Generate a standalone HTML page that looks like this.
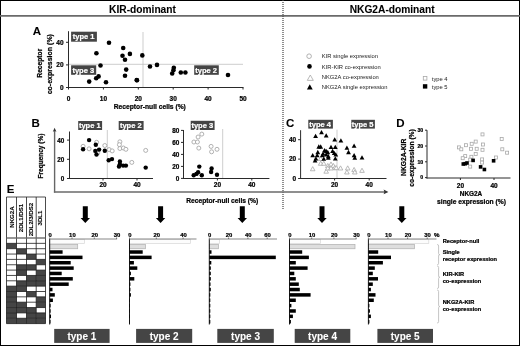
<!DOCTYPE html>
<html><head><meta charset="utf-8"><style>
html,body{margin:0;padding:0;background:#fff;}
svg{display:block;filter:grayscale(1);}
text{font-family:"Liberation Sans", sans-serif;}
</style></head><body>
<svg width="520" height="346" viewBox="0 0 520 346">
<rect x="0" y="0" width="520" height="346" fill="#fff"/>
<rect x="0.5" y="0.5" width="519" height="345" fill="none" stroke="#000" stroke-width="1"/>
<line x1="0" y1="15.9" x2="520" y2="15.9" stroke="#6a6a6a" stroke-width="1.6"/>
<line x1="283.0" y1="0" x2="283.0" y2="209" stroke="#444" stroke-width="1.2" stroke-dasharray="1 1"/>
<text x="142.5" y="13.2" font-size="10.2" font-weight="bold" text-anchor="middle" fill="#000" stroke="#000" stroke-width="0.08">KIR-dominant</text>
<text x="392.2" y="13.2" font-size="10.2" font-weight="bold" text-anchor="middle" fill="#000" stroke="#000" stroke-width="0.08">NKG2A-dominant</text>
<text x="32.7" y="35.2" font-size="11.5" font-weight="bold" text-anchor="start" fill="#000" stroke="#000" stroke-width="0.08">A</text>
<line x1="143" y1="32" x2="143" y2="87.5" stroke="#c0c0c0" stroke-width="0.8"/>
<line x1="68.5" y1="64.3" x2="243" y2="64.3" stroke="#c0c0c0" stroke-width="0.8"/>
<line x1="68.5" y1="31.2" x2="68.5" y2="88.0" stroke="#2a2a2a" stroke-width="1"/>
<line x1="68.0" y1="87.5" x2="243.5" y2="87.5" stroke="#2a2a2a" stroke-width="1"/>
<line x1="66.0" y1="87.5" x2="68.5" y2="87.5" stroke="#2a2a2a" stroke-width="1"/>
<text x="63.6" y="89.8" font-size="6.5" font-weight="bold" text-anchor="end" fill="#000" stroke="#000" stroke-width="0.22">0</text>
<line x1="66.0" y1="64.9" x2="68.5" y2="64.9" stroke="#2a2a2a" stroke-width="1"/>
<text x="63.6" y="67.2" font-size="6.5" font-weight="bold" text-anchor="end" fill="#000" stroke="#000" stroke-width="0.22">20</text>
<line x1="66.0" y1="42.300000000000004" x2="68.5" y2="42.300000000000004" stroke="#2a2a2a" stroke-width="1"/>
<text x="63.6" y="44.6" font-size="6.5" font-weight="bold" text-anchor="end" fill="#000" stroke="#000" stroke-width="0.22">40</text>
<line x1="68.5" y1="87.5" x2="68.5" y2="89.5" stroke="#2a2a2a" stroke-width="1"/>
<text x="68.5" y="100.9" font-size="6.5" font-weight="bold" text-anchor="middle" fill="#000" stroke="#000" stroke-width="0.22">0</text>
<line x1="103.4" y1="87.5" x2="103.4" y2="89.5" stroke="#2a2a2a" stroke-width="1"/>
<text x="103.4" y="100.9" font-size="6.5" font-weight="bold" text-anchor="middle" fill="#000" stroke="#000" stroke-width="0.22">10</text>
<line x1="138.3" y1="87.5" x2="138.3" y2="89.5" stroke="#2a2a2a" stroke-width="1"/>
<text x="138.3" y="100.9" font-size="6.5" font-weight="bold" text-anchor="middle" fill="#000" stroke="#000" stroke-width="0.22">20</text>
<line x1="173.2" y1="87.5" x2="173.2" y2="89.5" stroke="#2a2a2a" stroke-width="1"/>
<text x="173.2" y="100.9" font-size="6.5" font-weight="bold" text-anchor="middle" fill="#000" stroke="#000" stroke-width="0.22">30</text>
<line x1="208.10000000000002" y1="87.5" x2="208.10000000000002" y2="89.5" stroke="#2a2a2a" stroke-width="1"/>
<text x="208.10000000000002" y="100.9" font-size="6.5" font-weight="bold" text-anchor="middle" fill="#000" stroke="#000" stroke-width="0.22">40</text>
<line x1="243.0" y1="87.5" x2="243.0" y2="89.5" stroke="#2a2a2a" stroke-width="1"/>
<text x="243.0" y="100.9" font-size="6.5" font-weight="bold" text-anchor="middle" fill="#000" stroke="#000" stroke-width="0.22">50</text>
<text x="149.8" y="109.0" font-size="6.7" font-weight="bold" text-anchor="middle" fill="#000" stroke="#000" stroke-width="0.22">Receptor-null cells (%)</text>
<text x="42.3" y="63.2" font-size="6.7" font-weight="bold" text-anchor="middle" fill="#000" transform="rotate(-90 42.3 63.2)" stroke="#000" stroke-width="0.22">Receptor</text>
<text x="51.6" y="64.2" font-size="7.0" font-weight="bold" text-anchor="middle" fill="#000" transform="rotate(-90 51.6 64.2)" stroke="#000" stroke-width="0.22">co-expression (%)</text>
<rect x="71.1" y="31.7" width="25.80000000000001" height="10.000000000000004" fill="#454545"/>
<text x="83.6" y="39.35" font-size="7.5" font-weight="bold" text-anchor="middle" fill="#fff" stroke="#fff" stroke-width="0.22">type 1</text>
<rect x="71.1" y="65.3" width="25.10000000000001" height="9.5" fill="#454545"/>
<text x="83.25" y="72.7" font-size="7.5" font-weight="bold" text-anchor="middle" fill="#fff" stroke="#fff" stroke-width="0.22">type 3</text>
<rect x="194.2" y="65.3" width="24.600000000000023" height="9.5" fill="#454545"/>
<text x="206.1" y="72.7" font-size="7.5" font-weight="bold" text-anchor="middle" fill="#fff" stroke="#fff" stroke-width="0.22">type 2</text>
<circle cx="109" cy="42.8" r="2.3" fill="#000"/>
<circle cx="96.4" cy="53.3" r="2.3" fill="#000"/>
<circle cx="123.2" cy="48" r="2.3" fill="#000"/>
<circle cx="122.5" cy="55.7" r="2.3" fill="#000"/>
<circle cx="129.9" cy="53.9" r="2.3" fill="#000"/>
<circle cx="125" cy="59.8" r="2.3" fill="#000"/>
<circle cx="142.3" cy="55.4" r="2.3" fill="#000"/>
<circle cx="100.5" cy="65.5" r="2.3" fill="#000"/>
<circle cx="126.2" cy="69.6" r="2.3" fill="#000"/>
<circle cx="125" cy="75.7" r="2.3" fill="#000"/>
<circle cx="98.6" cy="76.4" r="2.3" fill="#000"/>
<circle cx="96.2" cy="78.3" r="2.3" fill="#000"/>
<circle cx="89.2" cy="81.6" r="2.3" fill="#000"/>
<circle cx="106" cy="82.2" r="2.3" fill="#000"/>
<circle cx="136.7" cy="80.1" r="2.3" fill="#000"/>
<circle cx="150" cy="66.5" r="2.3" fill="#000"/>
<circle cx="157" cy="64.9" r="2.3" fill="#000"/>
<circle cx="173.8" cy="67.7" r="2.3" fill="#000"/>
<circle cx="173.4" cy="70.2" r="2.3" fill="#000"/>
<circle cx="172.2" cy="73.5" r="2.3" fill="#000"/>
<circle cx="180.8" cy="72.5" r="2.3" fill="#000"/>
<circle cx="185.4" cy="72.5" r="2.3" fill="#000"/>
<circle cx="228" cy="75" r="2.3" fill="#000"/>
<circle cx="137" cy="80.2" r="2.3" fill="#000"/>
<circle cx="309.1" cy="56.2" r="2.3" fill="#fff" stroke="#a8a8a8" stroke-width="0.9"/>
<circle cx="309.5" cy="66.4" r="2.3" fill="#000"/>
<polygon points="310.30,75.00 307.30,80.40 313.30,80.40" fill="#fff" stroke="#a8a8a8" stroke-width="0.8"/>
<polygon points="309.80,84.19 306.90,89.41 312.70,89.41" fill="#000"/>
<text x="321.8" y="58.2" font-size="5.8" font-weight="normal" text-anchor="start" fill="#1a1a1a">KIR single expression</text>
<text x="321.8" y="68.5" font-size="5.8" font-weight="normal" text-anchor="start" fill="#1a1a1a">KIR-KIR co-expression</text>
<text x="321.8" y="78.9" font-size="5.8" font-weight="normal" text-anchor="start" fill="#1a1a1a">NKG2A co-expression</text>
<text x="321.8" y="89.2" font-size="5.8" font-weight="normal" text-anchor="start" fill="#1a1a1a">NKG2A single expression</text>
<rect x="423.30" y="76.50" width="3.6000000000000005" height="3.6000000000000005" fill="#fff" stroke="#a8a8a8" stroke-width="0.8"/>
<rect x="422.90" y="84.20" width="4.4" height="4.4" fill="#000"/>
<text x="431.8" y="80.8" font-size="5.8" font-weight="normal" text-anchor="start" fill="#1a1a1a">type 4</text>
<text x="431.8" y="89.3" font-size="5.8" font-weight="normal" text-anchor="start" fill="#1a1a1a">type 5</text>
<text x="31.6" y="127.1" font-size="11.5" font-weight="bold" text-anchor="start" fill="#000" stroke="#000" stroke-width="0.08">B</text>
<line x1="54.6" y1="130.5" x2="54.6" y2="192.6" stroke="#666" stroke-width="1.4"/>
<polygon points="54.6,127.7 52.8,131.8 54.6,131.0 56.4,131.8" fill="#333"/>
<line x1="53.9" y1="191.9" x2="385" y2="191.9" stroke="#6a6a6a" stroke-width="1.5"/>
<polygon points="383.6,189.5 388.4,191.9 383.6,194.3 384.4,191.9" fill="#333"/>
<text x="42.9" y="156" font-size="6.5" font-weight="bold" text-anchor="middle" fill="#000" transform="rotate(-90 42.9 156)" stroke="#000" stroke-width="0.22">Frequency (%)</text>
<text x="222.2" y="202.6" font-size="6.7" font-weight="bold" text-anchor="middle" fill="#000" stroke="#000" stroke-width="0.22">Receptor-null cells (%)</text>
<line x1="107.3" y1="130" x2="107.3" y2="178.5" stroke="#c0c0c0" stroke-width="0.8"/>
<line x1="69.5" y1="131.5" x2="69.5" y2="179.0" stroke="#2a2a2a" stroke-width="1"/>
<line x1="69.0" y1="178.5" x2="153" y2="178.5" stroke="#2a2a2a" stroke-width="1"/>
<line x1="67.0" y1="178.5" x2="69.5" y2="178.5" stroke="#2a2a2a" stroke-width="1"/>
<text x="64.3" y="180.9" font-size="6.3" font-weight="bold" text-anchor="end" fill="#000" stroke="#000" stroke-width="0.22">0</text>
<line x1="67.0" y1="159.3" x2="69.5" y2="159.3" stroke="#2a2a2a" stroke-width="1"/>
<text x="64.3" y="161.70000000000002" font-size="6.3" font-weight="bold" text-anchor="end" fill="#000" stroke="#000" stroke-width="0.22">20</text>
<line x1="67.0" y1="140.1" x2="69.5" y2="140.1" stroke="#2a2a2a" stroke-width="1"/>
<text x="64.3" y="142.5" font-size="6.3" font-weight="bold" text-anchor="end" fill="#000" stroke="#000" stroke-width="0.22">40</text>
<line x1="103.0" y1="178.5" x2="103.0" y2="180.5" stroke="#2a2a2a" stroke-width="1"/>
<text x="103.0" y="187.0" font-size="6.5" font-weight="bold" text-anchor="middle" fill="#000" stroke="#000" stroke-width="0.22">20</text>
<line x1="137.0" y1="178.5" x2="137.0" y2="180.5" stroke="#2a2a2a" stroke-width="1"/>
<text x="137.0" y="187.0" font-size="6.5" font-weight="bold" text-anchor="middle" fill="#000" stroke="#000" stroke-width="0.22">40</text>
<rect x="78.2" y="121.0" width="23.89999999999999" height="9.0" fill="#454545"/>
<text x="89.75" y="128.15" font-size="7.5" font-weight="bold" text-anchor="middle" fill="#fff" stroke="#fff" stroke-width="0.22">type 1</text>
<rect x="118.7" y="121.0" width="24.89999999999999" height="9.0" fill="#454545"/>
<text x="130.75" y="128.15" font-size="7.5" font-weight="bold" text-anchor="middle" fill="#fff" stroke="#fff" stroke-width="0.22">type 2</text>
<circle cx="83.1" cy="146.3" r="2.0" fill="#fff" stroke="#a8a8a8" stroke-width="0.9"/>
<circle cx="89.1" cy="148.8" r="2.0" fill="#fff" stroke="#a8a8a8" stroke-width="0.9"/>
<circle cx="96.6" cy="142.3" r="2.0" fill="#fff" stroke="#a8a8a8" stroke-width="0.9"/>
<circle cx="104.8" cy="145.5" r="2.0" fill="#fff" stroke="#a8a8a8" stroke-width="0.9"/>
<circle cx="109.2" cy="149.6" r="2.0" fill="#fff" stroke="#a8a8a8" stroke-width="0.9"/>
<circle cx="112.2" cy="150.9" r="2.0" fill="#fff" stroke="#a8a8a8" stroke-width="0.9"/>
<circle cx="119.9" cy="141.8" r="2.0" fill="#fff" stroke="#a8a8a8" stroke-width="0.9"/>
<circle cx="119.4" cy="144.7" r="2.0" fill="#fff" stroke="#a8a8a8" stroke-width="0.9"/>
<circle cx="119.9" cy="148.5" r="2.0" fill="#fff" stroke="#a8a8a8" stroke-width="0.9"/>
<circle cx="123.4" cy="148" r="2.0" fill="#fff" stroke="#a8a8a8" stroke-width="0.9"/>
<circle cx="125.9" cy="149.3" r="2.0" fill="#fff" stroke="#a8a8a8" stroke-width="0.9"/>
<circle cx="131.8" cy="162.4" r="2.0" fill="#fff" stroke="#a8a8a8" stroke-width="0.9"/>
<circle cx="145.7" cy="150.4" r="2.0" fill="#fff" stroke="#a8a8a8" stroke-width="0.9"/>
<circle cx="97.8" cy="152.9" r="2.0" fill="#fff" stroke="#a8a8a8" stroke-width="0.9"/>
<circle cx="89.1" cy="140.1" r="2.2" fill="#000"/>
<circle cx="83.1" cy="149.3" r="2.2" fill="#000"/>
<circle cx="95.8" cy="144.7" r="2.2" fill="#000"/>
<circle cx="99.1" cy="149.6" r="2.2" fill="#000"/>
<circle cx="95.3" cy="150.9" r="2.2" fill="#000"/>
<circle cx="96.5" cy="154.5" r="2.2" fill="#000"/>
<circle cx="104.8" cy="150.8" r="2.2" fill="#000"/>
<circle cx="108.7" cy="160.2" r="2.2" fill="#000"/>
<circle cx="112" cy="159.1" r="2.2" fill="#000"/>
<circle cx="119.9" cy="161.5" r="2.2" fill="#000"/>
<circle cx="119.9" cy="164.3" r="2.2" fill="#000"/>
<circle cx="119" cy="166.5" r="2.2" fill="#000"/>
<circle cx="123.1" cy="165.6" r="2.2" fill="#000"/>
<circle cx="125.9" cy="165.6" r="2.2" fill="#000"/>
<circle cx="145.7" cy="167.6" r="2.2" fill="#000"/>
<line x1="222.7" y1="129" x2="222.7" y2="178.5" stroke="#c0c0c0" stroke-width="0.8"/>
<line x1="183.5" y1="130" x2="183.5" y2="179.0" stroke="#2a2a2a" stroke-width="1"/>
<line x1="183.0" y1="178.5" x2="269.4" y2="178.5" stroke="#2a2a2a" stroke-width="1"/>
<line x1="181.0" y1="178.4" x2="183.5" y2="178.4" stroke="#2a2a2a" stroke-width="1"/>
<text x="179.4" y="180.70000000000002" font-size="6.4" font-weight="bold" text-anchor="end" fill="#000" stroke="#000" stroke-width="0.22">0</text>
<line x1="181.0" y1="166.4" x2="183.5" y2="166.4" stroke="#2a2a2a" stroke-width="1"/>
<text x="179.4" y="168.70000000000002" font-size="6.4" font-weight="bold" text-anchor="end" fill="#000" stroke="#000" stroke-width="0.22">20</text>
<line x1="181.0" y1="154.4" x2="183.5" y2="154.4" stroke="#2a2a2a" stroke-width="1"/>
<text x="179.4" y="156.70000000000002" font-size="6.4" font-weight="bold" text-anchor="end" fill="#000" stroke="#000" stroke-width="0.22">40</text>
<line x1="181.0" y1="142.4" x2="183.5" y2="142.4" stroke="#2a2a2a" stroke-width="1"/>
<text x="179.4" y="144.70000000000002" font-size="6.4" font-weight="bold" text-anchor="end" fill="#000" stroke="#000" stroke-width="0.22">60</text>
<line x1="181.0" y1="130.4" x2="183.5" y2="130.4" stroke="#2a2a2a" stroke-width="1"/>
<text x="179.4" y="132.70000000000002" font-size="6.4" font-weight="bold" text-anchor="end" fill="#000" stroke="#000" stroke-width="0.22">80</text>
<line x1="217.4" y1="178.5" x2="217.4" y2="180.5" stroke="#2a2a2a" stroke-width="1"/>
<text x="217.4" y="187.0" font-size="6.5" font-weight="bold" text-anchor="middle" fill="#000" stroke="#000" stroke-width="0.22">20</text>
<line x1="251.8" y1="178.5" x2="251.8" y2="180.5" stroke="#2a2a2a" stroke-width="1"/>
<text x="251.8" y="187.0" font-size="6.5" font-weight="bold" text-anchor="middle" fill="#000" stroke="#000" stroke-width="0.22">40</text>
<rect x="190.7" y="120.8" width="23.900000000000006" height="9.200000000000003" fill="#454545"/>
<text x="202.24999999999997" y="128.05" font-size="7.5" font-weight="bold" text-anchor="middle" fill="#fff" stroke="#fff" stroke-width="0.22">type 3</text>
<circle cx="193.9" cy="142" r="2.0" fill="#fff" stroke="#a8a8a8" stroke-width="0.9"/>
<circle cx="197.4" cy="142" r="2.0" fill="#fff" stroke="#a8a8a8" stroke-width="0.9"/>
<circle cx="198.1" cy="137" r="2.0" fill="#fff" stroke="#a8a8a8" stroke-width="0.9"/>
<circle cx="201.8" cy="134.1" r="2.0" fill="#fff" stroke="#a8a8a8" stroke-width="0.9"/>
<circle cx="198.8" cy="148.1" r="2.0" fill="#fff" stroke="#a8a8a8" stroke-width="0.9"/>
<circle cx="211.1" cy="146.4" r="2.0" fill="#fff" stroke="#a8a8a8" stroke-width="0.9"/>
<circle cx="211.6" cy="151.8" r="2.0" fill="#fff" stroke="#a8a8a8" stroke-width="0.9"/>
<circle cx="217" cy="149.3" r="2.0" fill="#fff" stroke="#a8a8a8" stroke-width="0.9"/>
<circle cx="193.7" cy="175.2" r="2.2" fill="#000"/>
<circle cx="196.4" cy="173.9" r="2.2" fill="#000"/>
<circle cx="198.1" cy="172.2" r="2.2" fill="#000"/>
<circle cx="199.3" cy="166.6" r="2.2" fill="#000"/>
<circle cx="201.8" cy="175.2" r="2.2" fill="#000"/>
<circle cx="211.6" cy="168.5" r="2.2" fill="#000"/>
<circle cx="211.1" cy="172" r="2.2" fill="#000"/>
<circle cx="217" cy="174.7" r="2.2" fill="#000"/>
<text x="285.9" y="127.0" font-size="11.5" font-weight="bold" text-anchor="start" fill="#000" stroke="#000" stroke-width="0.08">C</text>
<line x1="337" y1="129.7" x2="337" y2="178.5" stroke="#c0c0c0" stroke-width="0.8"/>
<line x1="300.6" y1="130.2" x2="300.6" y2="179.0" stroke="#2a2a2a" stroke-width="1"/>
<line x1="300.1" y1="178.5" x2="386.5" y2="178.5" stroke="#2a2a2a" stroke-width="1"/>
<line x1="298.1" y1="178.5" x2="300.6" y2="178.5" stroke="#2a2a2a" stroke-width="1"/>
<text x="296.2" y="180.8" font-size="6.5" font-weight="bold" text-anchor="end" fill="#000" stroke="#000" stroke-width="0.22">0</text>
<line x1="298.1" y1="159.1" x2="300.6" y2="159.1" stroke="#2a2a2a" stroke-width="1"/>
<text x="296.2" y="161.4" font-size="6.5" font-weight="bold" text-anchor="end" fill="#000" stroke="#000" stroke-width="0.22">20</text>
<line x1="298.1" y1="139.7" x2="300.6" y2="139.7" stroke="#2a2a2a" stroke-width="1"/>
<text x="296.2" y="142.0" font-size="6.5" font-weight="bold" text-anchor="end" fill="#000" stroke="#000" stroke-width="0.22">40</text>
<line x1="334.6" y1="178.5" x2="334.6" y2="180.5" stroke="#2a2a2a" stroke-width="1"/>
<text x="334.6" y="187.0" font-size="6.5" font-weight="bold" text-anchor="middle" fill="#000" stroke="#000" stroke-width="0.22">20</text>
<line x1="369.2" y1="178.5" x2="369.2" y2="180.5" stroke="#2a2a2a" stroke-width="1"/>
<text x="369.2" y="187.0" font-size="6.5" font-weight="bold" text-anchor="middle" fill="#000" stroke="#000" stroke-width="0.22">40</text>
<rect x="308.3" y="119.8" width="24.599999999999966" height="8.799999999999997" fill="#454545"/>
<text x="320.20000000000005" y="126.85" font-size="7.5" font-weight="bold" text-anchor="middle" fill="#fff" stroke="#fff" stroke-width="0.22">type 4</text>
<rect x="351.3" y="119.8" width="23.599999999999966" height="8.799999999999997" fill="#454545"/>
<text x="362.70000000000005" y="126.85" font-size="7.5" font-weight="bold" text-anchor="middle" fill="#fff" stroke="#fff" stroke-width="0.22">type 5</text>
<polygon points="312.70,166.63 310.40,170.77 315.00,170.77" fill="#fff" stroke="#a8a8a8" stroke-width="0.8"/>
<polygon points="320.70,156.33 318.40,160.47 323.00,160.47" fill="#fff" stroke="#a8a8a8" stroke-width="0.8"/>
<polygon points="320.70,161.13 318.40,165.27 323.00,165.27" fill="#fff" stroke="#a8a8a8" stroke-width="0.8"/>
<polygon points="323.80,161.13 321.50,165.27 326.10,165.27" fill="#fff" stroke="#a8a8a8" stroke-width="0.8"/>
<polygon points="327.80,163.43 325.50,167.57 330.10,167.57" fill="#fff" stroke="#a8a8a8" stroke-width="0.8"/>
<polygon points="331.00,161.93 328.70,166.07 333.30,166.07" fill="#fff" stroke="#a8a8a8" stroke-width="0.8"/>
<polygon points="333.40,163.43 331.10,167.57 335.70,167.57" fill="#fff" stroke="#a8a8a8" stroke-width="0.8"/>
<polygon points="334.70,165.53 332.40,169.67 337.00,169.67" fill="#fff" stroke="#a8a8a8" stroke-width="0.8"/>
<polygon points="336.20,165.53 333.90,169.67 338.50,169.67" fill="#fff" stroke="#a8a8a8" stroke-width="0.8"/>
<polygon points="340.50,165.83 338.20,169.97 342.80,169.97" fill="#fff" stroke="#a8a8a8" stroke-width="0.8"/>
<polygon points="326.20,169.03 323.90,173.17 328.50,173.17" fill="#fff" stroke="#a8a8a8" stroke-width="0.8"/>
<polygon points="327.80,165.83 325.50,169.97 330.10,169.97" fill="#fff" stroke="#a8a8a8" stroke-width="0.8"/>
<polygon points="331.00,165.83 328.70,169.97 333.30,169.97" fill="#fff" stroke="#a8a8a8" stroke-width="0.8"/>
<polygon points="347.70,165.83 345.40,169.97 350.00,169.97" fill="#fff" stroke="#a8a8a8" stroke-width="0.8"/>
<polygon points="346.90,169.83 344.60,173.97 349.20,173.97" fill="#fff" stroke="#a8a8a8" stroke-width="0.8"/>
<polygon points="354.10,167.43 351.80,171.57 356.40,171.57" fill="#fff" stroke="#a8a8a8" stroke-width="0.8"/>
<polygon points="354.80,169.83 352.50,173.97 357.10,173.97" fill="#fff" stroke="#a8a8a8" stroke-width="0.8"/>
<polygon points="362.00,168.23 359.70,172.37 364.30,172.37" fill="#fff" stroke="#a8a8a8" stroke-width="0.8"/>
<polygon points="315.60,133.64 313.20,137.96 318.00,137.96" fill="#000"/>
<polygon points="321.50,130.04 319.10,134.36 323.90,134.36" fill="#000"/>
<polygon points="326.20,133.14 323.80,137.46 328.60,137.46" fill="#000"/>
<polygon points="334.70,137.14 332.30,141.46 337.10,141.46" fill="#000"/>
<polygon points="340.90,138.24 338.50,142.56 343.30,142.56" fill="#000"/>
<polygon points="318.80,144.34 316.40,148.66 321.20,148.66" fill="#000"/>
<polygon points="320.70,144.34 318.30,148.66 323.10,148.66" fill="#000"/>
<polygon points="331.00,144.74 328.60,149.06 333.40,149.06" fill="#000"/>
<polygon points="335.30,144.74 332.90,149.06 337.70,149.06" fill="#000"/>
<polygon points="346.90,145.44 344.50,149.76 349.30,149.76" fill="#000"/>
<polygon points="354.10,143.54 351.70,147.86 356.50,147.86" fill="#000"/>
<polygon points="317.80,149.84 315.40,154.16 320.20,154.16" fill="#000"/>
<polygon points="324.60,147.94 322.20,152.26 327.00,152.26" fill="#000"/>
<polygon points="326.20,148.64 323.80,152.96 328.60,152.96" fill="#000"/>
<polygon points="327.80,149.84 325.40,154.16 330.20,154.16" fill="#000"/>
<polygon points="323.10,151.14 320.70,155.46 325.50,155.46" fill="#000"/>
<polygon points="332.60,148.64 330.20,152.96 335.00,152.96" fill="#000"/>
<polygon points="334.20,150.64 331.80,154.96 336.60,154.96" fill="#000"/>
<polygon points="348.50,149.84 346.10,154.16 350.90,154.16" fill="#000"/>
<polygon points="312.70,153.04 310.30,157.36 315.10,157.36" fill="#000"/>
<polygon points="317.20,153.04 314.80,157.36 319.60,157.36" fill="#000"/>
<polygon points="322.30,153.04 319.90,157.36 324.70,157.36" fill="#000"/>
<polygon points="326.20,152.24 323.80,156.56 328.60,156.56" fill="#000"/>
<polygon points="328.30,153.84 325.90,158.16 330.70,158.16" fill="#000"/>
<polygon points="335.80,152.24 333.40,156.56 338.20,156.56" fill="#000"/>
<polygon points="354.10,153.04 351.70,157.36 356.50,157.36" fill="#000"/>
<polygon points="354.80,155.44 352.40,159.76 357.20,159.76" fill="#000"/>
<polygon points="362.00,155.14 359.60,159.46 364.40,159.46" fill="#000"/>
<polygon points="315.10,158.14 312.70,162.46 317.50,162.46" fill="#000"/>
<polygon points="323.80,156.54 321.40,160.86 326.20,160.86" fill="#000"/>
<polygon points="328.30,155.44 325.90,159.76 330.70,159.76" fill="#000"/>
<polygon points="335.30,156.24 332.90,160.56 337.70,160.56" fill="#000"/>
<polygon points="315.90,156.24 313.50,160.56 318.30,160.56" fill="#000"/>
<text x="396.2" y="127.1" font-size="11.5" font-weight="bold" text-anchor="start" fill="#000" stroke="#000" stroke-width="0.08">D</text>
<line x1="427.0" y1="130.2" x2="427.0" y2="178.5" stroke="#2a2a2a" stroke-width="1"/>
<line x1="426.5" y1="178.0" x2="510.5" y2="178.0" stroke="#2a2a2a" stroke-width="1"/>
<line x1="425.0" y1="177.6" x2="427.0" y2="177.6" stroke="#2a2a2a" stroke-width="1"/>
<text x="423.2" y="179.4" font-size="5.2" font-weight="bold" text-anchor="end" fill="#000" stroke="#000" stroke-width="0.22">0</text>
<line x1="425.0" y1="161.79999999999998" x2="427.0" y2="161.79999999999998" stroke="#2a2a2a" stroke-width="1"/>
<text x="423.2" y="163.6" font-size="5.2" font-weight="bold" text-anchor="end" fill="#000" stroke="#000" stroke-width="0.22">10</text>
<line x1="425.0" y1="146.0" x2="427.0" y2="146.0" stroke="#2a2a2a" stroke-width="1"/>
<text x="423.2" y="147.8" font-size="5.2" font-weight="bold" text-anchor="end" fill="#000" stroke="#000" stroke-width="0.22">20</text>
<line x1="425.0" y1="130.2" x2="427.0" y2="130.2" stroke="#2a2a2a" stroke-width="1"/>
<text x="423.2" y="132.0" font-size="5.2" font-weight="bold" text-anchor="end" fill="#000" stroke="#000" stroke-width="0.22">30</text>
<line x1="460.40000000000003" y1="178.0" x2="460.40000000000003" y2="180.0" stroke="#2a2a2a" stroke-width="1"/>
<text x="460.40000000000003" y="187.5" font-size="6.5" font-weight="bold" text-anchor="middle" fill="#000" stroke="#000" stroke-width="0.22">20</text>
<line x1="494.0" y1="178.0" x2="494.0" y2="180.0" stroke="#2a2a2a" stroke-width="1"/>
<text x="494.0" y="187.5" font-size="6.5" font-weight="bold" text-anchor="middle" fill="#000" stroke="#000" stroke-width="0.22">40</text>
<text x="471.0" y="195.8" font-size="6.4" font-weight="bold" text-anchor="middle" fill="#000" stroke="#000" stroke-width="0.22">NKG2A</text>
<text x="471.5" y="204.2" font-size="6.7" font-weight="bold" text-anchor="middle" fill="#000" stroke="#000" stroke-width="0.22">single expression (%)</text>
<text x="406.4" y="157.3" font-size="6.7" font-weight="bold" text-anchor="middle" fill="#000" transform="rotate(-90 406.4 157.3)" stroke="#000" stroke-width="0.22">NKG2A-KIR</text>
<text x="413.5" y="158" font-size="6.7" font-weight="bold" text-anchor="middle" fill="#000" transform="rotate(-90 413.5 158)" stroke="#000" stroke-width="0.22">co-expression (%)</text>
<rect x="457.50" y="145.90" width="3.0" height="3.0" fill="#fff" stroke="#a8a8a8" stroke-width="0.8"/>
<rect x="459.80" y="147.80" width="3.0" height="3.0" fill="#fff" stroke="#a8a8a8" stroke-width="0.8"/>
<rect x="464.40" y="143.70" width="3.0" height="3.0" fill="#fff" stroke="#a8a8a8" stroke-width="0.8"/>
<rect x="470.20" y="142.30" width="3.0" height="3.0" fill="#fff" stroke="#a8a8a8" stroke-width="0.8"/>
<rect x="474.20" y="140.10" width="3.0" height="3.0" fill="#fff" stroke="#a8a8a8" stroke-width="0.8"/>
<rect x="469.40" y="147.30" width="3.0" height="3.0" fill="#fff" stroke="#a8a8a8" stroke-width="0.8"/>
<rect x="475.20" y="147.30" width="3.0" height="3.0" fill="#fff" stroke="#a8a8a8" stroke-width="0.8"/>
<rect x="481.00" y="132.90" width="3.0" height="3.0" fill="#fff" stroke="#a8a8a8" stroke-width="0.8"/>
<rect x="481.40" y="143.00" width="3.0" height="3.0" fill="#fff" stroke="#a8a8a8" stroke-width="0.8"/>
<rect x="481.00" y="148.30" width="3.0" height="3.0" fill="#fff" stroke="#a8a8a8" stroke-width="0.8"/>
<rect x="474.20" y="152.40" width="3.0" height="3.0" fill="#fff" stroke="#a8a8a8" stroke-width="0.8"/>
<rect x="463.70" y="154.60" width="3.0" height="3.0" fill="#fff" stroke="#a8a8a8" stroke-width="0.8"/>
<rect x="461.20" y="156.70" width="3.0" height="3.0" fill="#fff" stroke="#a8a8a8" stroke-width="0.8"/>
<rect x="469.90" y="155.30" width="3.0" height="3.0" fill="#fff" stroke="#a8a8a8" stroke-width="0.8"/>
<rect x="468.70" y="158.20" width="3.0" height="3.0" fill="#fff" stroke="#a8a8a8" stroke-width="0.8"/>
<rect x="480.60" y="157.90" width="3.0" height="3.0" fill="#fff" stroke="#a8a8a8" stroke-width="0.8"/>
<rect x="480.60" y="161.10" width="3.0" height="3.0" fill="#fff" stroke="#a8a8a8" stroke-width="0.8"/>
<rect x="468.70" y="165.10" width="3.0" height="3.0" fill="#fff" stroke="#a8a8a8" stroke-width="0.8"/>
<rect x="494.40" y="156.00" width="3.0" height="3.0" fill="#fff" stroke="#a8a8a8" stroke-width="0.8"/>
<rect x="500.20" y="137.50" width="3.0" height="3.0" fill="#fff" stroke="#a8a8a8" stroke-width="0.8"/>
<rect x="500.80" y="147.80" width="3.0" height="3.0" fill="#fff" stroke="#a8a8a8" stroke-width="0.8"/>
<rect x="505.60" y="151.20" width="3.0" height="3.0" fill="#fff" stroke="#a8a8a8" stroke-width="0.8"/>
<rect x="461.50" y="162.20" width="3.6" height="3.6" fill="#000"/>
<rect x="463.40" y="161.90" width="3.6" height="3.6" fill="#000"/>
<rect x="465.20" y="161.20" width="3.6" height="3.6" fill="#000"/>
<rect x="471.30" y="158.60" width="3.6" height="3.6" fill="#000"/>
<rect x="478.80" y="165.10" width="3.6" height="3.6" fill="#000"/>
<rect x="482.60" y="167.70" width="3.6" height="3.6" fill="#000"/>
<rect x="491.80" y="159.00" width="3.6" height="3.6" fill="#000"/>
<text x="6.8" y="193.3" font-size="11.5" font-weight="bold" text-anchor="start" fill="#000" stroke="#000" stroke-width="0.08">E</text>
<rect x="6.5" y="243.35" width="10.0" height="5.35" fill="#454545"/>
<rect x="16.5" y="248.7" width="10.0" height="5.35" fill="#454545"/>
<rect x="26.5" y="254.05" width="9.700000000000003" height="5.35" fill="#454545"/>
<rect x="36.2" y="259.4" width="9.299999999999997" height="5.35" fill="#454545"/>
<rect x="16.5" y="264.75" width="10.0" height="5.35" fill="#454545"/>
<rect x="26.5" y="264.75" width="9.700000000000003" height="5.35" fill="#454545"/>
<rect x="16.5" y="270.1" width="10.0" height="5.35" fill="#454545"/>
<rect x="36.2" y="270.1" width="9.299999999999997" height="5.35" fill="#454545"/>
<rect x="26.5" y="275.45" width="9.700000000000003" height="5.35" fill="#454545"/>
<rect x="36.2" y="275.45" width="9.299999999999997" height="5.35" fill="#454545"/>
<rect x="16.5" y="280.8" width="10.0" height="5.35" fill="#454545"/>
<rect x="26.5" y="280.8" width="9.700000000000003" height="5.35" fill="#454545"/>
<rect x="36.2" y="280.8" width="9.299999999999997" height="5.35" fill="#454545"/>
<rect x="6.5" y="286.15" width="10.0" height="5.35" fill="#454545"/>
<rect x="16.5" y="286.15" width="10.0" height="5.35" fill="#454545"/>
<rect x="6.5" y="291.5" width="10.0" height="5.35" fill="#454545"/>
<rect x="26.5" y="291.5" width="9.700000000000003" height="5.35" fill="#454545"/>
<rect x="6.5" y="296.85" width="10.0" height="5.35" fill="#454545"/>
<rect x="36.2" y="296.85" width="9.299999999999997" height="5.35" fill="#454545"/>
<rect x="6.5" y="302.2" width="10.0" height="5.35" fill="#454545"/>
<rect x="16.5" y="302.2" width="10.0" height="5.35" fill="#454545"/>
<rect x="36.2" y="302.2" width="9.299999999999997" height="5.35" fill="#454545"/>
<rect x="6.5" y="307.55" width="10.0" height="5.35" fill="#454545"/>
<rect x="16.5" y="307.55" width="10.0" height="5.35" fill="#454545"/>
<rect x="26.5" y="307.55" width="9.700000000000003" height="5.35" fill="#454545"/>
<rect x="6.5" y="312.9" width="10.0" height="5.35" fill="#454545"/>
<rect x="26.5" y="312.9" width="9.700000000000003" height="5.35" fill="#454545"/>
<rect x="36.2" y="312.9" width="9.299999999999997" height="5.35" fill="#454545"/>
<rect x="6.5" y="318.25" width="10.0" height="5.35" fill="#454545"/>
<rect x="16.5" y="318.25" width="10.0" height="5.35" fill="#454545"/>
<rect x="26.5" y="318.25" width="9.700000000000003" height="5.35" fill="#454545"/>
<rect x="36.2" y="318.25" width="9.299999999999997" height="5.35" fill="#454545"/>
<line x1="6.5" y1="238.0" x2="45.5" y2="238.0" stroke="#1e1e1e" stroke-width="0.8"/>
<line x1="6.5" y1="243.35" x2="45.5" y2="243.35" stroke="#1e1e1e" stroke-width="0.8"/>
<line x1="6.5" y1="248.7" x2="45.5" y2="248.7" stroke="#1e1e1e" stroke-width="0.8"/>
<line x1="6.5" y1="254.05" x2="45.5" y2="254.05" stroke="#1e1e1e" stroke-width="0.8"/>
<line x1="6.5" y1="259.4" x2="45.5" y2="259.4" stroke="#1e1e1e" stroke-width="0.8"/>
<line x1="6.5" y1="264.75" x2="45.5" y2="264.75" stroke="#1e1e1e" stroke-width="0.8"/>
<line x1="6.5" y1="270.1" x2="45.5" y2="270.1" stroke="#1e1e1e" stroke-width="0.8"/>
<line x1="6.5" y1="275.45" x2="45.5" y2="275.45" stroke="#1e1e1e" stroke-width="0.8"/>
<line x1="6.5" y1="280.8" x2="45.5" y2="280.8" stroke="#1e1e1e" stroke-width="0.8"/>
<line x1="6.5" y1="286.15" x2="45.5" y2="286.15" stroke="#1e1e1e" stroke-width="0.8"/>
<line x1="6.5" y1="291.5" x2="45.5" y2="291.5" stroke="#1e1e1e" stroke-width="0.8"/>
<line x1="6.5" y1="296.85" x2="45.5" y2="296.85" stroke="#1e1e1e" stroke-width="0.8"/>
<line x1="6.5" y1="302.2" x2="45.5" y2="302.2" stroke="#1e1e1e" stroke-width="0.8"/>
<line x1="6.5" y1="307.55" x2="45.5" y2="307.55" stroke="#1e1e1e" stroke-width="0.8"/>
<line x1="6.5" y1="312.9" x2="45.5" y2="312.9" stroke="#1e1e1e" stroke-width="0.8"/>
<line x1="6.5" y1="318.25" x2="45.5" y2="318.25" stroke="#1e1e1e" stroke-width="0.8"/>
<line x1="6.5" y1="323.6" x2="45.5" y2="323.6" stroke="#1e1e1e" stroke-width="0.8"/>
<line x1="6.5" y1="197.0" x2="6.5" y2="323.6" stroke="#1e1e1e" stroke-width="0.8"/>
<line x1="16.5" y1="197.0" x2="16.5" y2="323.6" stroke="#1e1e1e" stroke-width="0.8"/>
<line x1="26.5" y1="197.0" x2="26.5" y2="323.6" stroke="#1e1e1e" stroke-width="0.8"/>
<line x1="36.2" y1="197.0" x2="36.2" y2="323.6" stroke="#1e1e1e" stroke-width="0.8"/>
<line x1="45.5" y1="197.0" x2="45.5" y2="323.6" stroke="#1e1e1e" stroke-width="0.8"/>
<line x1="6.5" y1="197.0" x2="45.5" y2="197.0" stroke="#222" stroke-width="0.8"/>
<line x1="6.5" y1="238.0" x2="45.5" y2="238.0" stroke="#888" stroke-width="1.0"/>
<text x="13.9" y="217.0" font-size="6.1" font-weight="bold" text-anchor="middle" fill="#000" transform="rotate(-90 13.9 217.0)" stroke="#000" stroke-width="0.12">NKG2A</text>
<text x="22.9" y="218.0" font-size="6.1" font-weight="bold" text-anchor="middle" fill="#000" transform="rotate(-90 22.9 218.0)" stroke="#000" stroke-width="0.12">2DL1/DS1</text>
<text x="33.3" y="219.6" font-size="6.1" font-weight="bold" text-anchor="middle" fill="#000" transform="rotate(-90 33.3 219.6)" stroke="#000" stroke-width="0.12">2DL2/3/DS2</text>
<text x="42.4" y="218.0" font-size="6.1" font-weight="bold" text-anchor="middle" fill="#000" transform="rotate(-90 42.4 218.0)" stroke="#000" stroke-width="0.12">3DL1</text>
<rect x="49.7" y="239.3" width="34.8" height="4.2" fill="#fcfcfc" stroke="#d6d6d6" stroke-width="0.7"/>
<rect x="49.7" y="244.36" width="28.0" height="4.4" fill="#dedede" stroke="#b0b0b0" stroke-width="0.7"/>
<rect x="49.7" y="250.27" width="12.899999999999999" height="3.5" fill="#000"/>
<rect x="49.7" y="255.63" width="32.8" height="3.5" fill="#000"/>
<rect x="49.7" y="260.99" width="21.0" height="3.5" fill="#000"/>
<rect x="49.7" y="266.35" width="24.0" height="3.5" fill="#000"/>
<rect x="49.7" y="271.71000000000004" width="12.0" height="3.5" fill="#000"/>
<rect x="49.7" y="277.07" width="23.099999999999994" height="3.5" fill="#000"/>
<rect x="49.7" y="282.43" width="19.0" height="3.5" fill="#000"/>
<rect x="49.7" y="287.79" width="2.799999999999997" height="3.5" fill="#000"/>
<rect x="49.7" y="293.15000000000003" width="5.099999999999994" height="3.5" fill="#000"/>
<rect x="49.7" y="298.51" width="3.1999999999999957" height="3.5" fill="#000"/>
<rect x="49.7" y="303.87" width="0.8999999999999986" height="3.5" fill="#000"/>
<rect x="49.7" y="309.23" width="0.8999999999999986" height="3.5" fill="#000"/>
<rect x="49.7" y="314.59000000000003" width="1.2999999999999972" height="3.5" fill="#000"/>
<rect x="49.7" y="319.95000000000005" width="0.7999999999999972" height="3.5" fill="#000"/>
<line x1="49.7" y1="239.0" x2="49.7" y2="324.5" stroke="#000" stroke-width="0.9"/>
<line x1="49.7" y1="239.0" x2="117.1" y2="239.0" stroke="#888" stroke-width="1.2"/>
<line x1="49.7" y1="237.5" x2="49.7" y2="239.0" stroke="#555" stroke-width="0.8"/>
<text x="50.1" y="236.5" font-size="5.9" font-weight="bold" text-anchor="middle" fill="#000" stroke="#000" stroke-width="0.22">0</text>
<line x1="72.0" y1="237.5" x2="72.0" y2="239.0" stroke="#555" stroke-width="0.8"/>
<text x="72.4" y="236.5" font-size="5.9" font-weight="bold" text-anchor="middle" fill="#000" stroke="#000" stroke-width="0.22">10</text>
<line x1="94.30000000000001" y1="237.5" x2="94.30000000000001" y2="239.0" stroke="#555" stroke-width="0.8"/>
<text x="94.70000000000002" y="236.5" font-size="5.9" font-weight="bold" text-anchor="middle" fill="#000" stroke="#000" stroke-width="0.22">20</text>
<line x1="116.60000000000001" y1="237.5" x2="116.60000000000001" y2="239.0" stroke="#555" stroke-width="0.8"/>
<text x="117.00000000000001" y="236.5" font-size="5.9" font-weight="bold" text-anchor="middle" fill="#000" stroke="#000" stroke-width="0.22">30</text>
<rect x="129.5" y="239.3" width="60.900000000000006" height="4.2" fill="#fcfcfc" stroke="#d6d6d6" stroke-width="0.7"/>
<rect x="129.5" y="244.36" width="16.0" height="4.4" fill="#dedede" stroke="#b0b0b0" stroke-width="0.7"/>
<rect x="129.5" y="250.27" width="13.199999999999989" height="3.5" fill="#000"/>
<rect x="129.5" y="255.63" width="22.099999999999994" height="3.5" fill="#000"/>
<rect x="129.5" y="260.99" width="4.400000000000006" height="3.5" fill="#000"/>
<rect x="129.5" y="266.35" width="7.800000000000011" height="3.5" fill="#000"/>
<rect x="129.5" y="271.71000000000004" width="1.4000000000000057" height="3.5" fill="#000"/>
<rect x="129.5" y="277.07" width="4.800000000000011" height="3.5" fill="#000"/>
<rect x="129.5" y="282.43" width="0.9000000000000057" height="3.5" fill="#000"/>
<rect x="129.5" y="287.79" width="0.9000000000000057" height="3.5" fill="#000"/>
<rect x="129.5" y="293.15000000000003" width="1.4000000000000057" height="3.5" fill="#000"/>
<rect x="129.5" y="298.51" width="0.5" height="3.5" fill="#000"/>
<rect x="129.5" y="303.87" width="0.5" height="3.5" fill="#000"/>
<rect x="129.5" y="309.23" width="0.5" height="3.5" fill="#000"/>
<rect x="129.5" y="314.59000000000003" width="0.5" height="3.5" fill="#000"/>
<rect x="129.5" y="319.95000000000005" width="0.5" height="3.5" fill="#000"/>
<line x1="129.5" y1="239.0" x2="129.5" y2="324.5" stroke="#000" stroke-width="0.9"/>
<line x1="129.5" y1="239.0" x2="196.5" y2="239.0" stroke="#888" stroke-width="1.2"/>
<line x1="129.5" y1="237.5" x2="129.5" y2="239.0" stroke="#555" stroke-width="0.8"/>
<text x="129.9" y="236.5" font-size="5.9" font-weight="bold" text-anchor="middle" fill="#000" stroke="#000" stroke-width="0.22">0</text>
<line x1="156.3" y1="237.5" x2="156.3" y2="239.0" stroke="#555" stroke-width="0.8"/>
<text x="156.70000000000002" y="236.5" font-size="5.9" font-weight="bold" text-anchor="middle" fill="#000" stroke="#000" stroke-width="0.22">20</text>
<line x1="183.1" y1="237.5" x2="183.1" y2="239.0" stroke="#555" stroke-width="0.8"/>
<text x="183.5" y="236.5" font-size="5.9" font-weight="bold" text-anchor="middle" fill="#000" stroke="#000" stroke-width="0.22">40</text>
<rect x="209.3" y="239.3" width="10.299999999999983" height="4.2" fill="#fcfcfc" stroke="#d6d6d6" stroke-width="0.7"/>
<rect x="209.3" y="244.36" width="9.199999999999989" height="4.4" fill="#dedede" stroke="#b0b0b0" stroke-width="0.7"/>
<rect x="209.3" y="250.27" width="2.1999999999999886" height="3.5" fill="#000"/>
<rect x="209.3" y="255.63" width="66.5" height="3.5" fill="#000"/>
<rect x="209.3" y="260.99" width="2.0" height="3.5" fill="#000"/>
<rect x="209.3" y="266.35" width="1.5" height="3.5" fill="#000"/>
<rect x="209.3" y="271.71000000000004" width="1.5" height="3.5" fill="#000"/>
<rect x="209.3" y="277.07" width="1.5" height="3.5" fill="#000"/>
<rect x="209.3" y="282.43" width="1.1999999999999886" height="3.5" fill="#000"/>
<rect x="209.3" y="287.79" width="1.5" height="3.5" fill="#000"/>
<rect x="209.3" y="293.15000000000003" width="1.0" height="3.5" fill="#000"/>
<rect x="209.3" y="298.51" width="1.0" height="3.5" fill="#000"/>
<rect x="209.3" y="303.87" width="1.0" height="3.5" fill="#000"/>
<rect x="209.3" y="309.23" width="1.0" height="3.5" fill="#000"/>
<rect x="209.3" y="314.59000000000003" width="1.0" height="3.5" fill="#000"/>
<rect x="209.3" y="319.95000000000005" width="1.0" height="3.5" fill="#000"/>
<line x1="209.3" y1="239.0" x2="209.3" y2="324.5" stroke="#000" stroke-width="0.9"/>
<line x1="209.3" y1="239.0" x2="277.0" y2="239.0" stroke="#888" stroke-width="1.2"/>
<line x1="209.3" y1="237.5" x2="209.3" y2="239.0" stroke="#555" stroke-width="0.8"/>
<text x="209.70000000000002" y="236.5" font-size="5.9" font-weight="bold" text-anchor="middle" fill="#000" stroke="#000" stroke-width="0.22">0</text>
<line x1="228.60000000000002" y1="237.5" x2="228.60000000000002" y2="239.0" stroke="#555" stroke-width="0.8"/>
<text x="229.00000000000003" y="236.5" font-size="5.9" font-weight="bold" text-anchor="middle" fill="#000" stroke="#000" stroke-width="0.22">20</text>
<line x1="247.9" y1="237.5" x2="247.9" y2="239.0" stroke="#555" stroke-width="0.8"/>
<text x="248.3" y="236.5" font-size="5.9" font-weight="bold" text-anchor="middle" fill="#000" stroke="#000" stroke-width="0.22">40</text>
<line x1="267.2" y1="237.5" x2="267.2" y2="239.0" stroke="#555" stroke-width="0.8"/>
<text x="267.59999999999997" y="236.5" font-size="5.9" font-weight="bold" text-anchor="middle" fill="#000" stroke="#000" stroke-width="0.22">60</text>
<rect x="289.5" y="239.3" width="30.899999999999977" height="4.2" fill="#fcfcfc" stroke="#d6d6d6" stroke-width="0.7"/>
<rect x="289.5" y="244.36" width="65.5" height="4.4" fill="#dedede" stroke="#b0b0b0" stroke-width="0.7"/>
<rect x="289.5" y="250.27" width="12.699999999999989" height="3.5" fill="#000"/>
<rect x="289.5" y="255.63" width="19.399999999999977" height="3.5" fill="#000"/>
<rect x="289.5" y="260.99" width="6.300000000000011" height="3.5" fill="#000"/>
<rect x="289.5" y="266.35" width="18.100000000000023" height="3.5" fill="#000"/>
<rect x="289.5" y="271.71000000000004" width="4.800000000000011" height="3.5" fill="#000"/>
<rect x="289.5" y="277.07" width="6.300000000000011" height="3.5" fill="#000"/>
<rect x="289.5" y="282.43" width="9.300000000000011" height="3.5" fill="#000"/>
<rect x="289.5" y="287.79" width="10.300000000000011" height="3.5" fill="#000"/>
<rect x="289.5" y="293.15000000000003" width="21.100000000000023" height="3.5" fill="#000"/>
<rect x="289.5" y="298.51" width="6.300000000000011" height="3.5" fill="#000"/>
<rect x="289.5" y="303.87" width="1.8999999999999773" height="3.5" fill="#000"/>
<rect x="289.5" y="309.23" width="6.300000000000011" height="3.5" fill="#000"/>
<rect x="289.5" y="314.59000000000003" width="3.3999999999999773" height="3.5" fill="#000"/>
<rect x="289.5" y="319.95000000000005" width="1.3999999999999773" height="3.5" fill="#000"/>
<line x1="289.5" y1="239.0" x2="289.5" y2="324.5" stroke="#000" stroke-width="0.9"/>
<line x1="289.5" y1="239.0" x2="356.5" y2="239.0" stroke="#888" stroke-width="1.2"/>
<line x1="289.5" y1="237.5" x2="289.5" y2="239.0" stroke="#555" stroke-width="0.8"/>
<text x="289.9" y="236.5" font-size="5.9" font-weight="bold" text-anchor="middle" fill="#000" stroke="#000" stroke-width="0.22">0</text>
<line x1="311.7" y1="237.5" x2="311.7" y2="239.0" stroke="#555" stroke-width="0.8"/>
<text x="312.09999999999997" y="236.5" font-size="5.9" font-weight="bold" text-anchor="middle" fill="#000" stroke="#000" stroke-width="0.22">10</text>
<line x1="333.9" y1="237.5" x2="333.9" y2="239.0" stroke="#555" stroke-width="0.8"/>
<text x="334.29999999999995" y="236.5" font-size="5.9" font-weight="bold" text-anchor="middle" fill="#000" stroke="#000" stroke-width="0.22">20</text>
<line x1="356.1" y1="237.5" x2="356.1" y2="239.0" stroke="#555" stroke-width="0.8"/>
<text x="356.5" y="236.5" font-size="5.9" font-weight="bold" text-anchor="middle" fill="#000" stroke="#000" stroke-width="0.22">30</text>
<rect x="368.4" y="239.3" width="60.400000000000034" height="4.2" fill="#fcfcfc" stroke="#d6d6d6" stroke-width="0.7"/>
<rect x="368.4" y="244.36" width="46.10000000000002" height="4.4" fill="#dedede" stroke="#b0b0b0" stroke-width="0.7"/>
<rect x="368.4" y="250.27" width="9.800000000000011" height="3.5" fill="#000"/>
<rect x="368.4" y="255.63" width="22.600000000000023" height="3.5" fill="#000"/>
<rect x="368.4" y="260.99" width="14.5" height="3.5" fill="#000"/>
<rect x="368.4" y="266.35" width="6.400000000000034" height="3.5" fill="#000"/>
<rect x="368.4" y="271.71000000000004" width="4.400000000000034" height="3.5" fill="#000"/>
<rect x="368.4" y="277.07" width="9.600000000000023" height="3.5" fill="#000"/>
<rect x="368.4" y="282.43" width="4.400000000000034" height="3.5" fill="#000"/>
<rect x="368.4" y="287.79" width="2.5" height="3.5" fill="#000"/>
<rect x="368.4" y="293.15000000000003" width="7.100000000000023" height="3.5" fill="#000"/>
<rect x="368.4" y="298.51" width="5.400000000000034" height="3.5" fill="#000"/>
<rect x="368.4" y="303.87" width="1.0" height="3.5" fill="#000"/>
<rect x="368.4" y="309.23" width="1.5" height="3.5" fill="#000"/>
<rect x="368.4" y="314.59000000000003" width="2.5" height="3.5" fill="#000"/>
<rect x="368.4" y="319.95000000000005" width="1.0" height="3.5" fill="#000"/>
<line x1="368.4" y1="239.0" x2="368.4" y2="324.5" stroke="#000" stroke-width="0.9"/>
<line x1="368.4" y1="239.0" x2="436.5" y2="239.0" stroke="#888" stroke-width="1.2"/>
<line x1="368.4" y1="237.5" x2="368.4" y2="239.0" stroke="#555" stroke-width="0.8"/>
<text x="368.79999999999995" y="236.5" font-size="5.9" font-weight="bold" text-anchor="middle" fill="#000" stroke="#000" stroke-width="0.22">0</text>
<line x1="388.0" y1="237.5" x2="388.0" y2="239.0" stroke="#555" stroke-width="0.8"/>
<text x="388.4" y="236.5" font-size="5.9" font-weight="bold" text-anchor="middle" fill="#000" stroke="#000" stroke-width="0.22">10</text>
<line x1="407.59999999999997" y1="237.5" x2="407.59999999999997" y2="239.0" stroke="#555" stroke-width="0.8"/>
<text x="407.99999999999994" y="236.5" font-size="5.9" font-weight="bold" text-anchor="middle" fill="#000" stroke="#000" stroke-width="0.22">20</text>
<line x1="427.2" y1="237.5" x2="427.2" y2="239.0" stroke="#555" stroke-width="0.8"/>
<text x="427.59999999999997" y="236.5" font-size="5.9" font-weight="bold" text-anchor="middle" fill="#000" stroke="#000" stroke-width="0.22">30</text>
<text x="436.7" y="236.5" font-size="6.2" font-weight="bold" text-anchor="middle" fill="#000" stroke="#000" stroke-width="0.22">%</text>
<polygon points="82.8,206.2 87.8,206.2 87.8,217.9 90.0,217.9 85.3,223.1 80.6,217.9 82.8,217.9" fill="#000"/>
<polygon points="158.1,206.2 163.1,206.2 163.1,217.9 165.29999999999998,217.9 160.6,223.1 155.9,217.9 158.1,217.9" fill="#000"/>
<polygon points="239.8,206.2 244.8,206.2 244.8,217.9 247.0,217.9 242.3,223.1 237.60000000000002,217.9 239.8,217.9" fill="#000"/>
<polygon points="319.5,206.2 324.5,206.2 324.5,217.9 326.7,217.9 322.0,223.1 317.3,217.9 319.5,217.9" fill="#000"/>
<polygon points="399.3,206.2 404.3,206.2 404.3,217.9 406.5,217.9 401.8,223.1 397.1,217.9 399.3,217.9" fill="#000"/>
<rect x="54.2" y="328.9" width="55.39999999999999" height="14.0" fill="#454545"/>
<text x="81.9" y="339.5" font-size="10.0" font-weight="bold" text-anchor="middle" fill="#fff" stroke="#fff" stroke-width="0.08">type 1</text>
<rect x="136.1" y="328.9" width="56.099999999999994" height="14.0" fill="#454545"/>
<text x="164.14999999999998" y="339.5" font-size="10.0" font-weight="bold" text-anchor="middle" fill="#fff" stroke="#fff" stroke-width="0.08">type 2</text>
<rect x="217.3" y="328.9" width="56.5" height="14.0" fill="#454545"/>
<text x="245.55" y="339.5" font-size="10.0" font-weight="bold" text-anchor="middle" fill="#fff" stroke="#fff" stroke-width="0.08">type 3</text>
<rect x="294.7" y="328.9" width="55.60000000000002" height="14.0" fill="#454545"/>
<text x="322.5" y="339.5" font-size="10.0" font-weight="bold" text-anchor="middle" fill="#fff" stroke="#fff" stroke-width="0.08">type 4</text>
<rect x="377.4" y="328.9" width="55.60000000000002" height="14.0" fill="#454545"/>
<text x="405.2" y="339.5" font-size="10.0" font-weight="bold" text-anchor="middle" fill="#fff" stroke="#fff" stroke-width="0.08">type 5</text>
<text x="442.7" y="243.2" font-size="5.7" font-weight="bold" text-anchor="start" fill="#000" stroke="#000" stroke-width="0.22">Receptor-null</text>
<text x="442.7" y="253.9" font-size="5.7" font-weight="bold" text-anchor="start" fill="#000" stroke="#000" stroke-width="0.22">Single</text>
<text x="442.7" y="260.8" font-size="5.7" font-weight="bold" text-anchor="start" fill="#000" stroke="#000" stroke-width="0.22">receptor expression</text>
<text x="442.7" y="275.9" font-size="5.7" font-weight="bold" text-anchor="start" fill="#000" stroke="#000" stroke-width="0.22">KIR-KIR</text>
<text x="442.7" y="282.7" font-size="5.7" font-weight="bold" text-anchor="start" fill="#000" stroke="#000" stroke-width="0.22">co-expression</text>
<text x="442.7" y="303.7" font-size="5.7" font-weight="bold" text-anchor="start" fill="#000" stroke="#000" stroke-width="0.22">NKG2A-KIR</text>
<text x="442.7" y="310.5" font-size="5.7" font-weight="bold" text-anchor="start" fill="#000" stroke="#000" stroke-width="0.22">co-expression</text>
<path d="M437.2,244.5 Q438.6,244.5 438.6,246.0 L438.6,253.45000000000002 Q438.6,254.65 439.8,254.65 Q438.6,254.65 438.6,255.85 L438.6,263.3 Q438.6,264.8 437.2,264.8" fill="none" stroke="#b5b5b5" stroke-width="0.8"/>
<path d="M437.2,266.0 Q438.6,266.0 438.6,267.5 L438.6,276.05 Q438.6,277.25 439.8,277.25 Q438.6,277.25 438.6,278.45 L438.6,287.0 Q438.6,288.5 437.2,288.5" fill="none" stroke="#b5b5b5" stroke-width="0.8"/>
<path d="M437.2,290.0 Q438.6,290.0 438.6,291.5 L438.6,305.3 Q438.6,306.5 439.8,306.5 Q438.6,306.5 438.6,307.7 L438.6,321.5 Q438.6,323.0 437.2,323.0" fill="none" stroke="#b5b5b5" stroke-width="0.8"/>
</svg>
</body></html>
